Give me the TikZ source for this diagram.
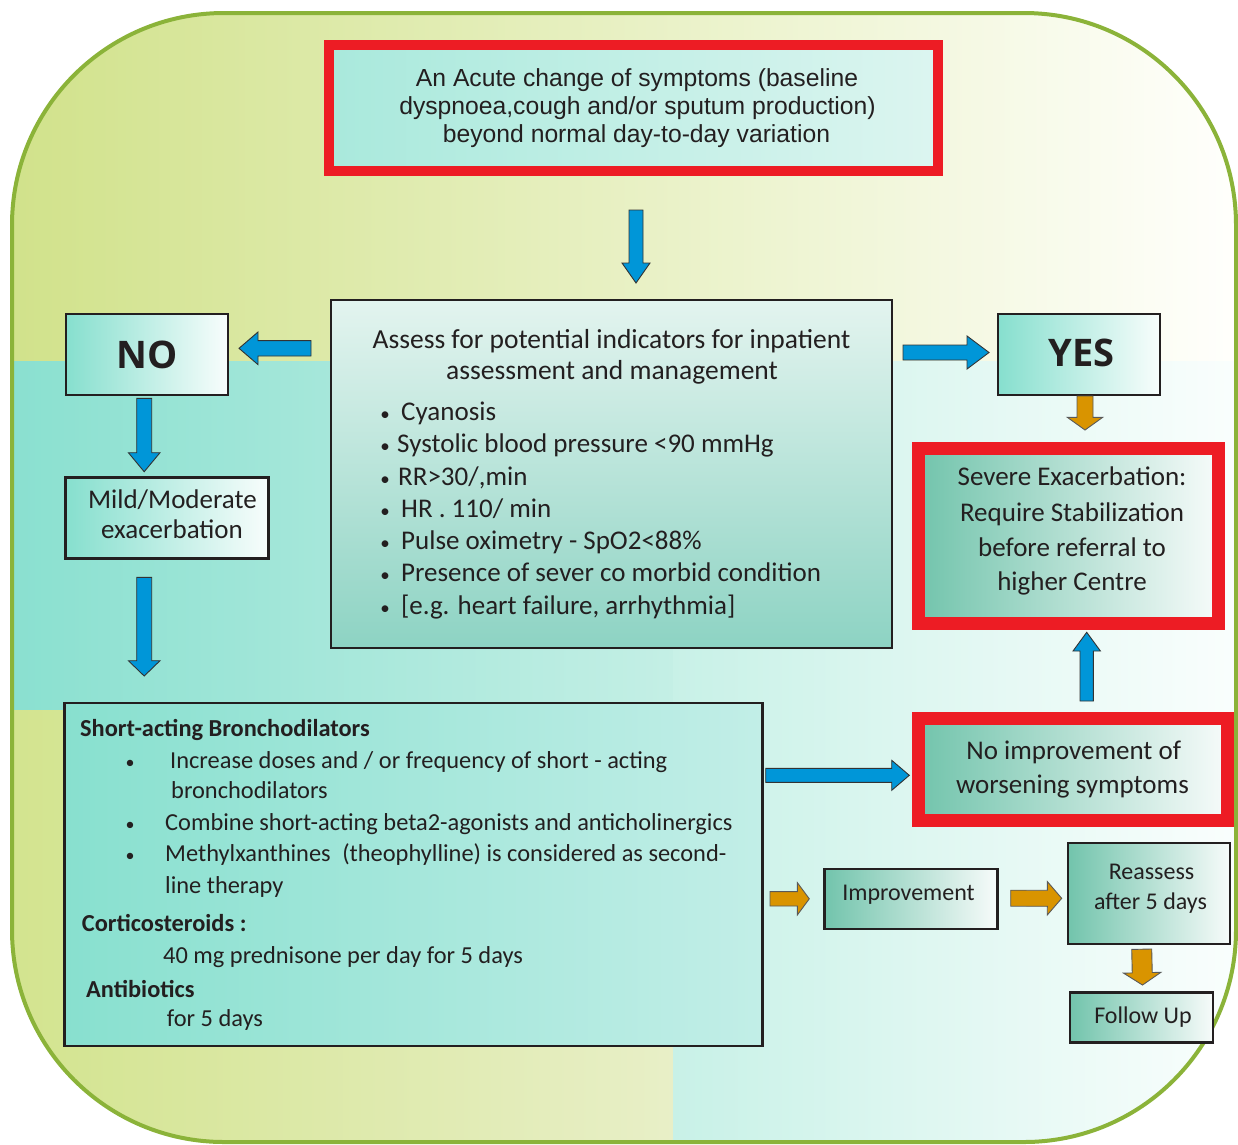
\documentclass[tikz,border=0pt]{standalone}
\usepackage{fontspec}
\setmainfont{Carlito}
\newfontfamily\arialfont{Liberation Sans}
\newfontfamily\opensans{Open Sans}
\usetikzlibrary{calc}

\definecolor{ink}{HTML}{231F20}
\definecolor{alert}{HTML}{ED1C24}
\definecolor{framegreen}{HTML}{8BB339}
\definecolor{arrblue}{HTML}{0096D8}
\definecolor{arrorange}{HTML}{D99400}
\definecolor{bgyl}{HTML}{D1E28B}
\definecolor{bgylend}{HTML}{FFFFFC}
\definecolor{bgteal}{HTML}{8AE0D0}
\definecolor{bgtealmid}{HTML}{C4EFE5}
\definecolor{bgylow}{HTML}{D3E48F}
\definecolor{bgylowmid}{HTML}{E8EFC7}
\definecolor{bgcyan}{HTML}{C8F1E7}
\definecolor{bgcyanend}{HTML}{FAFEFD}
\definecolor{symA}{HTML}{A9E9DC}
\definecolor{symB}{HTML}{DCF5F0}
\definecolor{assA}{HTML}{E3F4EF}
\definecolor{assB}{HTML}{8DD3C3}
\definecolor{lightA}{HTML}{86DFCE}
\definecolor{lightB}{HTML}{F8FDFC}
\definecolor{deepA}{HTML}{72C4AC}
\definecolor{deepB}{HTML}{F7FBFA}
\definecolor{treatA}{HTML}{88E0CF}
\definecolor{treatB}{HTML}{C2EEE7}

% block arrow: style, tail, tip, half shaft, half head, head length
\newcommand\blockarrow[6]{%
  \coordinate (bahead) at ($(#3)!#6!(#2)$);
  \draw[#1] ($(#2)!#4!90:(#3)$) -- ($(bahead)!#4!-90:(#2)$) -- ($(bahead)!#5!-90:(#2)$)
    -- (#3) -- ($(bahead)!#5!90:(#2)$) -- ($(bahead)!#4!90:(#2)$)
    -- ($(#2)!#4!-90:(#3)$) -- cycle;}

\begin{document}
\begin{tikzpicture}[x=1pt,y=-1pt,
  box/.style={rectangle, draw=ink, line width=2.4pt, outer sep=0pt, inner sep=0pt},
  lightbox/.style={box, left color=lightA, right color=lightB},
  deepbox/.style={box, left color=deepA, right color=deepB},
  redbox/.style={rectangle, draw=alert, outer sep=0pt, inner sep=0pt, left color=deepA, right color=deepB},
  ln/.style={inner sep=0pt, text=ink},
  bluearr/.style={fill=arrblue, draw=black!80, line width=0.9pt, line join=miter},
  orangearr/.style={fill=arrorange, draw=black!65, line width=0.9pt, line join=miter},
  frame/.style={draw=framegreen, line width=4pt, rounded corners=212pt},
  fassess/.style={font=\fontsize{27}{32}\selectfont, text height=20pt, text depth=2.7pt},
  fdot/.style={font=\fontsize{19}{32}\selectfont, text height=20pt, text depth=2.7pt},
  ftitle/.style={font=\fontsize{27.5}{32}\selectfont, text height=20.35pt, text depth=2.75pt},
  ftreat/.style={font=\fontsize{24.4}{30}\selectfont, text height=18.06pt, text depth=2.44pt},
  ftdot/.style={font=\fontsize{18}{30}\selectfont, text height=18.06pt, text depth=2.44pt},
  ftreatb/.style={font=\fontsize{24.4}{30}\selectfont\bfseries, text height=18.06pt, text depth=2.44pt},
  fbig/.style={font=\fontsize{27}{32}\selectfont, text height=20pt, text depth=2.7pt},
  fsmall/.style={font=\fontsize{24}{30}\selectfont, text height=17.76pt, text depth=2.4pt},
  fhead/.style={font=\opensans\bfseries\fontsize{38}{44}\selectfont, text height=30.4pt, text depth=3.04pt},
  fsym/.style={font=\arialfont\fontsize{24.7}{28}\selectfont, text height=19.76pt, text depth=1.98pt}]
\useasboundingbox (0,0) rectangle (1238,1144);

% backdrop panels inside the rounded frame
\begin{scope}
  \clip[rounded corners=212pt] (12,13) rectangle (1236,1142);
  \fill[left color=bgyl, right color=bgylend] (12,13) rectangle (1236,362);
  \fill[left color=bgteal, right color=bgtealmid] (12,361) rectangle (674,711);
  \fill[left color=bgylow, right color=bgylowmid] (12,710) rectangle (674,1142);
  \fill[left color=bgcyan, right color=bgcyanend] (673,361) rectangle (1236,1142);
\end{scope}
\draw[frame] (12,13) rectangle (1236,1142);

% boxes
\node[redbox, line width=10pt, minimum width=609pt, minimum height=126pt,
      left color=symA, right color=symB] (symptoms) at (633.5,108) {};
\node[box, minimum width=561pt, minimum height=348pt, top color=assA, bottom color=assB]
      (assess) at (611.5,474) {};
\node[lightbox, minimum width=162pt, minimum height=81pt] (no) at (146.7,354.7) {};
\node[lightbox, minimum width=162pt, minimum height=81pt] (yes) at (1078.8,354.7) {};
\node[redbox, line width=13pt, minimum width=300pt, minimum height=175pt] (severe) at (1068.5,536) {};
\node[redbox, line width=13pt, minimum width=309pt, minimum height=102pt] (noimp) at (1073,769) {};
\node[lightbox, minimum width=203pt, minimum height=81pt] (mild) at (167,518) {};
\node[box, minimum width=698pt, minimum height=343pt, left color=treatA, right color=treatB]
      (treat) at (413.3,874.2) {};
\node[deepbox, minimum width=173pt, minimum height=60pt] (improve) at (910.8,899.2) {};
\node[deepbox, minimum width=162pt, minimum height=101pt] (reassess) at (1149,893.7) {};
\node[deepbox, minimum width=143pt, minimum height=50pt] (follow) at (1141.7,1017.5) {};

% arrow end points
\coordinate (a1s) at ($(symptoms.south)+(2.5,39)$);
\coordinate (a1e) at ($(assess.north)+(24.5,-17)$);
\coordinate (a2s) at ($(assess.north west)+(-20,48.3)$);
\coordinate (a2e) at ($(no.east)+(11.3,-6.4)$);
\coordinate (a3s) at ($(assess.north east)+(11,52.5)$);
\coordinate (a3e) at ($(yes.west)+(-8.8,-2.2)$);
\coordinate (a4s) at ($(yes.south)+(6.2,0.8)$);
\coordinate (a4e) at ($(severe.north)+(16.5,-18.5)$);
\coordinate (a5s) at ($(noimp.north)+(13.7,-17)$);
\coordinate (a5e) at ($(severe.south)+(18.2,8.8)$);
\coordinate (a6s) at ($(treat.north east)+(3.4,72.6)$);
\coordinate (a6e) at ($(noimp.west)+(-9.2,6.3)$);
\coordinate (a7s) at ($(no.south)+(-2.5,3.1)$);
\coordinate (a7e) at ($(mild.north)+(-22.8,-5.8)$);
\coordinate (a8s) at ($(mild.south)+(-22.8,18.8)$);
\coordinate (a8e) at ($(treat.north west)+(79.9,-26.7)$);
\coordinate (a9s) at ($(treat.east)+(7.7,24.6)$);
\coordinate (a9e) at ($(improve.west)+(-15,-0.4)$);
\coordinate (a10s) at ($(improve.east)+(13.4,-1)$);
\coordinate (a10e) at ($(reassess.west)+(-6.3,4.6)$);
\coordinate (a11s) at ($(reassess.south)+(-7.3,5)$);
\coordinate (a11e) at ($(follow.north)+(0.8,-7.5)$);

% arrows
\blockarrow{bluearr}{a1s}{a1e}{7pt}{14pt}{20pt}
\blockarrow{bluearr}{a2s}{a2e}{7.7pt}{16.3pt}{19pt}
\blockarrow{bluearr}{a3s}{a3e}{7.5pt}{16.5pt}{22pt}
\blockarrow{orangearr}{a4s}{a4e}{8pt}{17.7pt}{12.7pt}
\blockarrow{bluearr}{a5s}{a5e}{6.7pt}{13.7pt}{18.7pt}
\blockarrow{bluearr}{a6s}{a6e}{7pt}{15pt}{17.6pt}
\blockarrow{bluearr}{a7s}{a7e}{7.5pt}{15.8pt}{19pt}
\blockarrow{bluearr}{a8s}{a8e}{7.5pt}{15.8pt}{15.3pt}
\blockarrow{orangearr}{a9s}{a9e}{7.2pt}{16.2pt}{12pt}
\blockarrow{orangearr}{a10s}{a10e}{8pt}{16.7pt}{14.4pt}
\blockarrow{orangearr}{a11s}{a11e}{10pt}{18.7pt}{12.3pt}

% texts: opening box
\node[ln, fsym] (sym1) at (637,78) {An Acute change of symptoms (baseline};
\node[ln, fsym] (sym2) at (637.5,106) {dyspnoea,cough and/or sputum production)};
\node[ln, fsym] (sym3) at (636.5,134) {beyond normal day-to-day variation};

% texts: assessment box
\node[ln, ftitle] (as1) at (611.5,340) {Assess for potential indicators for inpatient};
\node[ln, ftitle] (as2) at (612,371) {assessment and management};
\node[ln, fdot] (asb1) at (385,411.5) {•};
\node[ln, fdot] (asb2) at (385,444) {•};
\node[ln, fdot] (asb3) at (385,476.5) {•};
\node[ln, fdot] (asb4) at (385,508.5) {•};
\node[ln, fdot] (asb5) at (385,541) {•};
\node[ln, fdot] (asb6) at (385,573) {•};
\node[ln, fdot] (asb7) at (385,605.5) {•};
\node[ln, fassess, anchor=west] (ast1) at (401,411.5) {Cyanosis};
\node[ln, fassess, anchor=west] (ast2) at (397,444) {Systolic blood pressure <90 mmHg};
\node[ln, fassess, anchor=west] (ast3) at (398,476.5) {RR>30/,min};
\node[ln, fassess, anchor=west] (ast4) at (401,508.5) {HR . 110/ min};
\node[ln, fassess, anchor=west] (ast5) at (401,541) {Pulse oximetry - SpO2<88\%};
\node[ln, fassess, anchor=west] (ast6) at (401,573) {Presence of sever co morbid condition};
\node[ln, fassess, anchor=west] (ast7) at (401,605.5) {[e.g. heart failure, arrhythmia]};

% texts: decision boxes
\node[ln, fhead] (notext) at (147,355) {NO};
\node[ln, fhead] (yestext) at (1081.3,353.3) {YES};
\node[ln, fbig] (mild1) at (172.5,500) {Mild/Moderate};
\node[ln, fbig] (mild2) at (172,529.5) {exacerbation};
\node[ln, fbig] (sev1) at (1072,477) {Severe Exacerbation:};
\node[ln, fbig] (sev2) at (1072,513) {Require Stabilization};
\node[ln, fbig] (sev3) at (1072,548) {before referral to};
\node[ln, fbig] (sev4) at (1072,582) {higher Centre};
\node[ln, fbig] (noi1) at (1073.7,750.5) {No improvement of};
\node[ln, fbig] (noi2) at (1072.5,784.5) {worsening symptoms};
\node[ln, fsmall] (imp1) at (908.5,892.5) {Improvement};
\node[ln, fsmall] (rea1) at (1151.5,871.5) {Reassess};
\node[ln, fsmall] (rea2) at (1150.5,902) {after 5 days};
\node[ln, fsmall] (fol1) at (1143,1015.5) {Follow Up};

% texts: treatment box
\node[ln, ftreatb, anchor=west] (tr1) at (80,729) {Short-acting Bronchodilators};
\node[ln, ftdot] (trb1) at (130,760.5) {•};
\node[ln, ftreat, anchor=west] (tr2) at (170,760.5) {Increase doses and / or frequency of short - acting};
\node[ln, ftreat, anchor=west] (tr3) at (171,791) {bronchodilators};
\node[ln, ftdot] (trb2) at (130,823) {•};
\node[ln, ftreat, anchor=west] (tr4) at (165,823) {Combine short-acting beta2-agonists and anticholinergics};
\node[ln, ftdot] (trb3) at (130,854) {•};
\node[ln, ftreat, anchor=west] (tr5) at (165,854) {Methylxanthines\hspace{0.25em} (theophylline) is considered as second-};
\node[ln, ftreat, anchor=west] (tr6) at (165,885.5) {line therapy};
\node[ln, ftreatb, anchor=west] (tr7) at (81.7,924) {Corticosteroids :};
\node[ln, ftreat, anchor=west] (tr8) at (163,955.5) {40 mg prednisone per day for 5 days};
\node[ln, ftreatb, anchor=west] (tr9) at (86,990) {Antibiotics};
\node[ln, ftreat, anchor=west] (tr10) at (166.7,1019) {for 5 days};
\end{tikzpicture}
\end{document}
